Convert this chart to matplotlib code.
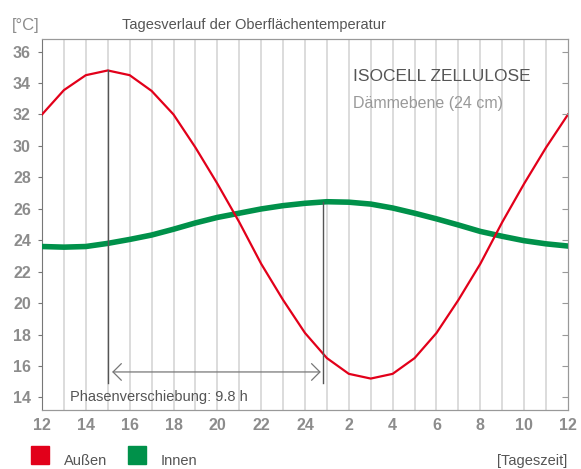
import matplotlib
matplotlib.use("Agg")
import matplotlib.pyplot as plt
import matplotlib.patches as mpatches

plt.rcParams['font.family'] = ['Liberation Sans', 'DejaVu Sans']

# hours of day, 12 .. 12 (next day)
hours = list(range(12, 37))
hour_labels = ["12", "14", "16", "18", "20", "22", "24", "2", "4", "6", "8", "10", "12"]
# outside surface temperature
aussen = [32.0, 33.55, 34.5, 34.8, 34.5, 33.5, 32.0, 29.9, 27.6, 25.15, 22.5, 20.2, 18.1,
          16.5, 15.5, 15.2, 15.5, 16.5, 18.1, 20.2, 22.5, 25.15, 27.6, 29.9, 32.0]
# inside surface temperature
innen = [23.6, 23.56, 23.6, 23.8, 24.05, 24.33, 24.7, 25.1, 25.45, 25.72, 25.99, 26.2, 26.35,
         26.45, 26.42, 26.3, 26.05, 25.72, 25.36, 24.97, 24.56, 24.25, 23.97, 23.77, 23.63]
y_ticks = [14, 16, 18, 20, 22, 24, 26, 28, 30, 32, 34, 36]

red = "#e2001a"
green = "#00914a"
grey = "#8c8c8c"
dark = "#555555"

fig = plt.figure(figsize=(5.81, 4.69), dpi=100)
ax = fig.add_axes([0.0723, 0.1258, 0.9053, 0.791])

# hourly grid
for h in hours[1:-1]:
    ax.axvline(h, color="#dcdcdc", lw=1.4, zorder=0)

ax.plot(hours, innen, color=green, lw=4, zorder=3)
ax.plot(hours, aussen, color=red, lw=1.6, zorder=4)

# phase shift markers
ax.plot([15, 15], [34.8, 14.9], color=dark, lw=1, zorder=5)
ax.plot([24.84, 24.84], [26.45, 14.9], color=dark, lw=1, zorder=5)
ax.annotate("", xy=(15.2, 15.62), xytext=(24.72, 15.62),
            arrowprops=dict(arrowstyle="<->,head_length=0.5,head_width=0.5",
                            color="#777777", lw=0.9, mutation_scale=12,
                            shrinkA=0, shrinkB=0))
ax.text(13.28, 13.8, "Phasenverschiebung: 9.8 h", fontsize=10.5, color=dark,
        va="baseline", ha="left")

ax.text(26.19, 34.15, "ISOCELL ZELLULOSE", fontsize=12.5, color=dark, va="baseline")
ax.text(26.19, 32.43, "Dämmebene (24 cm)", fontsize=11.5, color="#999999", va="baseline")

ax.set_xlim(12, 36)
ax.set_ylim(13.2, 36.8)
ax.set_xticks(hours[::2])
ax.set_xticklabels(hour_labels)
ax.set_yticks(y_ticks)
ax.tick_params(axis="x", length=0, pad=6, labelsize=11.5, labelcolor=grey)
ax.tick_params(axis="y", direction="out", length=3, color="#777777", pad=5,
               labelsize=11.5, labelcolor=grey)
for lab in ax.get_xticklabels() + ax.get_yticklabels():
    lab.set_fontweight("bold")

# right side ticks pointing inward
ax2 = ax.twinx()
ax2.set_ylim(13.2, 36.8)
ax2.set_yticks(y_ticks)
ax2.tick_params(axis="y", direction="in", length=4, color="#999999", labelright=False)

for s in ["top", "right", "bottom"]:
    ax.spines[s].set_color("#999999")
    ax2.spines[s].set_color("#999999")
ax.spines["left"].set_color("#777777")
ax2.spines["left"].set_visible(False)

fig.text(12 / 581, 1 - 30 / 469, "[°C]", fontsize=12, color=grey, va="baseline")
fig.text(122 / 581, 1 - 29 / 469, "Tagesverlauf der Oberflächentemperatur",
         fontsize=10.5, color=dark, va="baseline")

# legend
fig.patches.append(mpatches.Rectangle((31 / 581, 1 - 464 / 469), 18 / 581, 18 / 469,
                                      transform=fig.transFigure, color=red))
fig.patches.append(mpatches.Rectangle((128 / 581, 1 - 464 / 469), 18 / 581, 18 / 469,
                                      transform=fig.transFigure, color=green))
fig.text(64 / 581, 1 - 465 / 469, "Außen", fontsize=10.5, color=dark, va="baseline")
fig.text(161 / 581, 1 - 465 / 469, "Innen", fontsize=10.5, color=dark, va="baseline")
fig.text(567 / 581, 1 - 465 / 469, "[Tageszeit]", fontsize=10.5, color=dark,
         va="baseline", ha="right")

fig.savefig("out.png", dpi=100)
